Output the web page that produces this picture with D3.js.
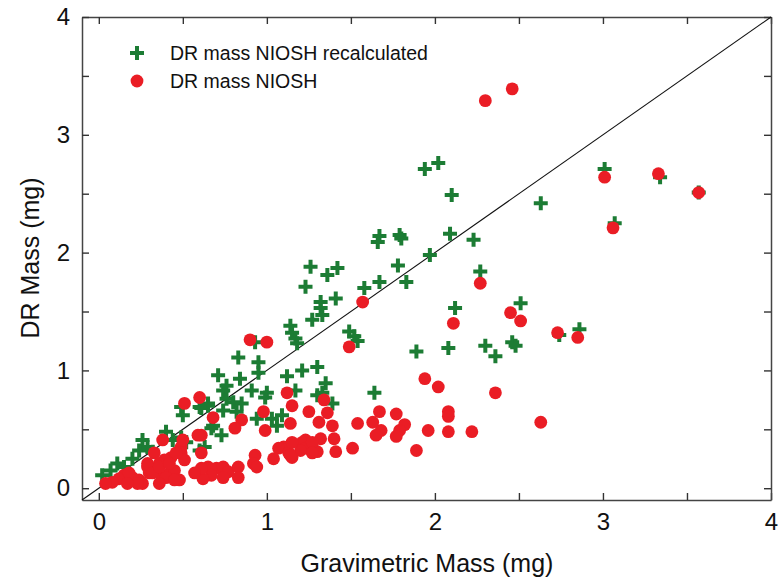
<!DOCTYPE html>
<html>
<head>
<meta charset="utf-8">
<script src="https://cdn.jsdelivr.net/npm/d3@7"></script>
<style>
  body { margin: 0; background: #fff; }
  svg text { font-family: "Liberation Sans", Arial, sans-serif; fill: #111; }
</style>
</head>
<body>
<div id="chart"></div>
<script>
// DR mass vs gravimetric mass (mg)
var recalcX = [1.94,2.02,2.10,2.09,2.23,1.97,2.27,2.63,3.01,3.34,3.57,3.07,1.67,1.66,1.79,1.80,1.78,1.67,1.83,1.58,
  1.42,1.26,1.36,1.23,1.41,1.32,1.32,1.33,1.27,2.12,2.51,1.49,1.54,1.52,1.89,2.08,2.30,2.36,2.46,2.48,
  2.74,2.86,1.64,1.39,1.14,1.15,1.17,1.18,0.93,0.83,0.95,0.84,0.71,0.74,0.76,0.95,0.91,1.00,1.12,1.21,
  1.30,1.35,1.33,1.17,1.30,0.94,1.03,1.09,1.06,0.85,0.80,0.74,0.82,0.68,0.73,0.65,0.61,0.50,0.49,0.60,
  0.65,0.40,0.44,0.26,0.29,0.24,0.32,0.52,0.49,0.63,0.60,0.11,0.07,0.02,0.67,0.99,0.76,0.15,0.20];
var recalcY = [2.71,2.76,2.49,2.16,2.11,1.98,1.84,2.42,2.71,2.64,2.51,2.25,2.14,2.09,2.15,2.12,1.89,1.75,1.75,1.70,
  1.87,1.88,1.81,1.71,1.61,1.58,1.53,1.47,1.43,1.53,1.57,1.33,1.25,1.29,1.16,1.19,1.21,1.12,1.24,1.21,
  1.30,1.35,0.81,0.72,1.38,1.32,1.27,1.23,1.24,1.11,1.07,0.93,0.96,0.83,0.76,0.98,0.83,0.81,0.95,1.00,
  1.03,0.89,0.81,0.83,0.79,0.59,0.59,0.62,0.53,0.72,0.73,0.66,0.65,0.53,0.45,0.70,0.68,0.62,0.69,0.69,
  0.72,0.48,0.41,0.41,0.35,0.32,0.31,0.39,0.43,0.35,0.32,0.21,0.15,0.11,0.51,0.77,0.87,0.18,0.25];

var nioshX = [2.30,2.46,3.01,3.33,3.57,3.06,2.27,1.57,1.49,2.11,2.45,2.51,2.73,2.85,2.63,1.94,2.02,2.36,2.08,2.08,
  1.96,2.08,2.22,1.89,1.67,1.77,1.82,1.63,1.68,1.65,1.79,1.77,1.54,1.34,1.25,1.36,1.31,1.39,1.23,1.32,
  1.27,1.30,1.40,1.41,1.51,0.90,1.00,0.51,0.60,0.68,0.85,0.81,0.98,0.99,1.12,1.15,1.14,0.61,0.38,1.10,
  1.07,1.13,1.15,1.21,1.23,1.27,1.27,1.04,0.93,0.92,0.94,0.65,0.70,0.74,0.77,0.74,0.83,0.83,0.67,0.62,
  1.20,1.14,1.15,0.49,0.49,0.51,0.59,0.43,0.39,0.36,0.33,0.30,0.29,0.24,0.20,0.15,0.12,0.08,0.04,0.26,
  0.38,0.42,0.45,0.48,0.61,0.57,0.33,0.46,0.50,0.18,0.23,0.29,0.32,0.36,0.42,0.40,0.45,0.36,0.17,0.61];
var nioshY = [3.29,3.39,2.64,2.67,2.51,2.21,1.74,1.58,1.20,1.40,1.49,1.42,1.32,1.28,0.56,0.93,0.86,0.81,0.65,0.61,
  0.49,0.48,0.48,0.32,0.65,0.63,0.54,0.56,0.49,0.45,0.49,0.44,0.55,0.75,0.65,0.64,0.56,0.53,0.41,0.42,
  0.35,0.31,0.42,0.31,0.34,1.26,1.24,0.72,0.77,0.60,0.58,0.51,0.65,0.49,0.81,0.70,0.55,0.45,0.41,0.35,
  0.34,0.30,0.26,0.39,0.34,0.39,0.30,0.25,0.28,0.21,0.18,0.18,0.17,0.18,0.14,0.09,0.18,0.09,0.11,0.08,
  0.32,0.28,0.39,0.35,0.30,0.24,0.45,0.26,0.24,0.21,0.15,0.13,0.18,0.07,0.09,0.11,0.08,0.05,0.04,0.04,
  0.09,0.13,0.15,0.07,0.17,0.13,0.30,0.30,0.41,0.13,0.04,0.21,0.13,0.18,0.21,0.09,0.07,0.04,0.04,0.30];

var axisTicks = [0, 1, 2, 3, 4];
var minorTicks = [0, 0.5, 1, 1.5, 2, 2.5, 3, 3.5, 4];
var seriesNames = ["DR mass NIOSH recalculated", "DR mass NIOSH"];
var seriesColors = ["#1c7c34", "#ea1d25"];

var W = 780, H = 581;
var svg = d3.select("#chart").append("svg").attr("width", W).attr("height", H);

var x = d3.scaleLinear().domain([-0.1, 4]).range([82, 771]);
var y = d3.scaleLinear().domain([-0.1, 4]).range([500, 17]);

function fmt(d) { return axisTicks.indexOf(d) >= 0 ? d : ""; }

function styleAxis(g) {
  g.selectAll(".domain").attr("stroke", "#444").attr("stroke-width", 1.5);
  g.selectAll(".tick line").attr("stroke", "#333").attr("stroke-width", 1.4);
  g.selectAll(".tick text").style("font-size", "24px").attr("fill", "#111");
}

svg.append("g").attr("transform", "translate(0,500)")
  .call(d3.axisBottom(x).tickValues(minorTicks).tickSize(-7).tickSizeOuter(0).tickPadding(13).tickFormat(fmt))
  .call(styleAxis);
svg.append("g").attr("transform", "translate(0,17)")
  .call(d3.axisTop(x).tickValues(minorTicks).tickSize(-7).tickSizeOuter(0).tickFormat(""))
  .call(styleAxis);
svg.append("g").attr("transform", "translate(82,0)")
  .call(d3.axisLeft(y).tickValues(minorTicks).tickSize(-7).tickSizeOuter(0).tickPadding(12).tickFormat(fmt))
  .call(styleAxis);
svg.append("g").attr("transform", "translate(771,0)")
  .call(d3.axisRight(y).tickValues(minorTicks).tickSize(-7).tickSizeOuter(0).tickFormat(""))
  .call(styleAxis);

// 1:1 line
svg.append("line")
  .attr("x1", x(-0.1)).attr("y1", y(-0.1))
  .attr("x2", x(4)).attr("y2", y(4))
  .attr("stroke", "#111").attr("stroke-width", 1.1);

var crossPath = "M-7,0H7M0,-7V7";

svg.append("g").selectAll("path")
  .data(d3.range(recalcX.length))
  .enter().append("path")
  .attr("d", crossPath)
  .attr("transform", function(i) { return "translate(" + x(recalcX[i]) + "," + y(recalcY[i]) + ")"; })
  .attr("stroke", seriesColors[0]).attr("stroke-width", 4);

svg.append("g").selectAll("circle")
  .data(d3.range(nioshX.length))
  .enter().append("circle")
  .attr("cx", function(i) { return x(nioshX[i]); })
  .attr("cy", function(i) { return y(nioshY[i]); })
  .attr("r", 6.4)
  .attr("fill", seriesColors[1]);

// legend
var leg = svg.append("g");
leg.append("path").attr("d", crossPath)
  .attr("transform", "translate(137,53)")
  .attr("stroke", seriesColors[0]).attr("stroke-width", 4);
leg.append("circle").attr("cx", 137).attr("cy", 81).attr("r", 6.4).attr("fill", seriesColors[1]);
leg.selectAll("text").data(seriesNames).enter().append("text")
  .attr("x", 170).attr("y", function(d, i) { return 60 + i * 28; })
  .style("font-size", "19.5px")
  .text(function(d) { return d; });

// axis titles
svg.append("text")
  .attr("x", 427).attr("y", 572)
  .attr("text-anchor", "middle")
  .style("font-size", "25px")
  .text("Gravimetric Mass (mg)");
svg.append("text")
  .attr("transform", "translate(39,258) rotate(-90)")
  .attr("text-anchor", "middle")
  .style("font-size", "25px")
  .text("DR Mass (mg)");
</script>
</body>
</html>
